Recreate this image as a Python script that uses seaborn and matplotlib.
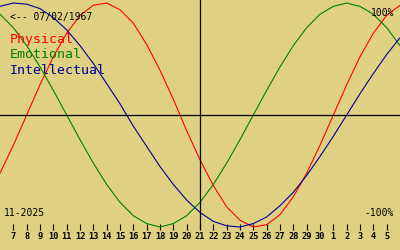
import matplotlib
matplotlib.use("Agg")
import matplotlib.pyplot as plt
import seaborn as sns
import pandas as pd

# Day labels (Nov 6 .. Dec 6 2025); ticks shown for Nov 7 .. Dec 5
day_labels = ["6", "7", "8", "9", "10", "11", "12", "13", "14", "15", "16", "17", "18", "19",
              "20", "21", "22", "23", "24", "25", "26", "27", "28", "29", "30",
              "1", "2", "3", "4", "5", "6"]

physical = [-0.52, -0.27, 0.00, 0.27, 0.52, 0.73, 0.89, 0.98, 1.00, 0.94, 0.82, 0.63, 0.40, 0.14,
            -0.14, -0.40, -0.63, -0.82, -0.94, -1.00, -0.98, -0.89, -0.73, -0.52, -0.27,
            0.00, 0.27, 0.52, 0.73, 0.89, 0.98]
emotional = [0.90, 0.78, 0.62, 0.43, 0.22, 0.00, -0.22, -0.43, -0.62, -0.78, -0.90, -0.97, -1.00, -0.97,
             -0.90, -0.78, -0.62, -0.43, -0.22, 0.00, 0.22, 0.43, 0.62, 0.78, 0.90,
             0.97, 1.00, 0.97, 0.90, 0.78, 0.62]
intellectual = [0.97, 1.00, 0.99, 0.95, 0.87, 0.76, 0.62, 0.46, 0.28, 0.10, -0.10, -0.28, -0.46, -0.62,
                -0.76, -0.87, -0.95, -0.99, -1.00, -0.97, -0.91, -0.81, -0.69, -0.54, -0.37,
                -0.19, 0.00, 0.19, 0.37, 0.54, 0.69]

series_names = ["Physical", "Emotional", "Intellectual"]
colors = {"Physical": "#ff0000", "Emotional": "#008000", "Intellectual": "#000099"}

positions = list(range(-1, len(day_labels) - 1))
rows = []
for name, vals in zip(series_names, [physical, emotional, intellectual]):
    for p, v in zip(positions, vals):
        rows.append({"day": p, "value": v, "series": name})
df = pd.DataFrame(rows)

bg = "#E0D182"
fig = plt.figure(figsize=(4, 2.5), dpi=100, facecolor=bg)
ax = fig.add_axes([0, 20 / 250, 1, 230 / 250])
ax.set_facecolor(bg)

sns.lineplot(data=df, x="day", y="value", hue="series", palette=colors,
             linewidth=0.8, ax=ax, legend=False, sort=True, estimator=None)

ax.axhline(0, color="black", linewidth=0.9)
ax.axvline(14, color="black", linewidth=0.9)

ax.set_xlim(-1, 29)
ax.set_ylim(-1.027, 1.027)
for s in ax.spines.values():
    s.set_visible(False)

tick_pos = positions[1:-1]
ax.set_xticks(tick_pos)
ax.set_xticklabels(day_labels[1:-1], family="DejaVu Sans Mono", fontsize=6.2, fontweight="bold")
ax.tick_params(axis="x", direction="in", length=4.3, width=0.8, pad=1.5, color="black")
ax.set_yticks([])
ax.set_xlabel("")
ax.set_ylabel("")

mono = "DejaVu Sans Mono"
W, H = 400, 250
def ftext(x, y, s, **kw):
    fig.text(x / W, 1 - y / H, s, family=mono, va="baseline", **kw)

ftext(10, 20, "<-- 07/02/1967", fontsize=7, color="black")
ftext(10, 43, "Physical", fontsize=9.5, color=colors["Physical"])
ftext(10, 58, "Emotional", fontsize=9.5, color=colors["Emotional"])
ftext(10, 74, "Intellectual", fontsize=9.5, color=colors["Intellectual"])
ftext(394, 16, "100%", fontsize=7, color="black", ha="right")
ftext(394, 216, "-100%", fontsize=7, color="black", ha="right")
ftext(4, 216, "11-2025", fontsize=7, color="black")

fig.savefig("out.png", dpi=100, facecolor=bg)
